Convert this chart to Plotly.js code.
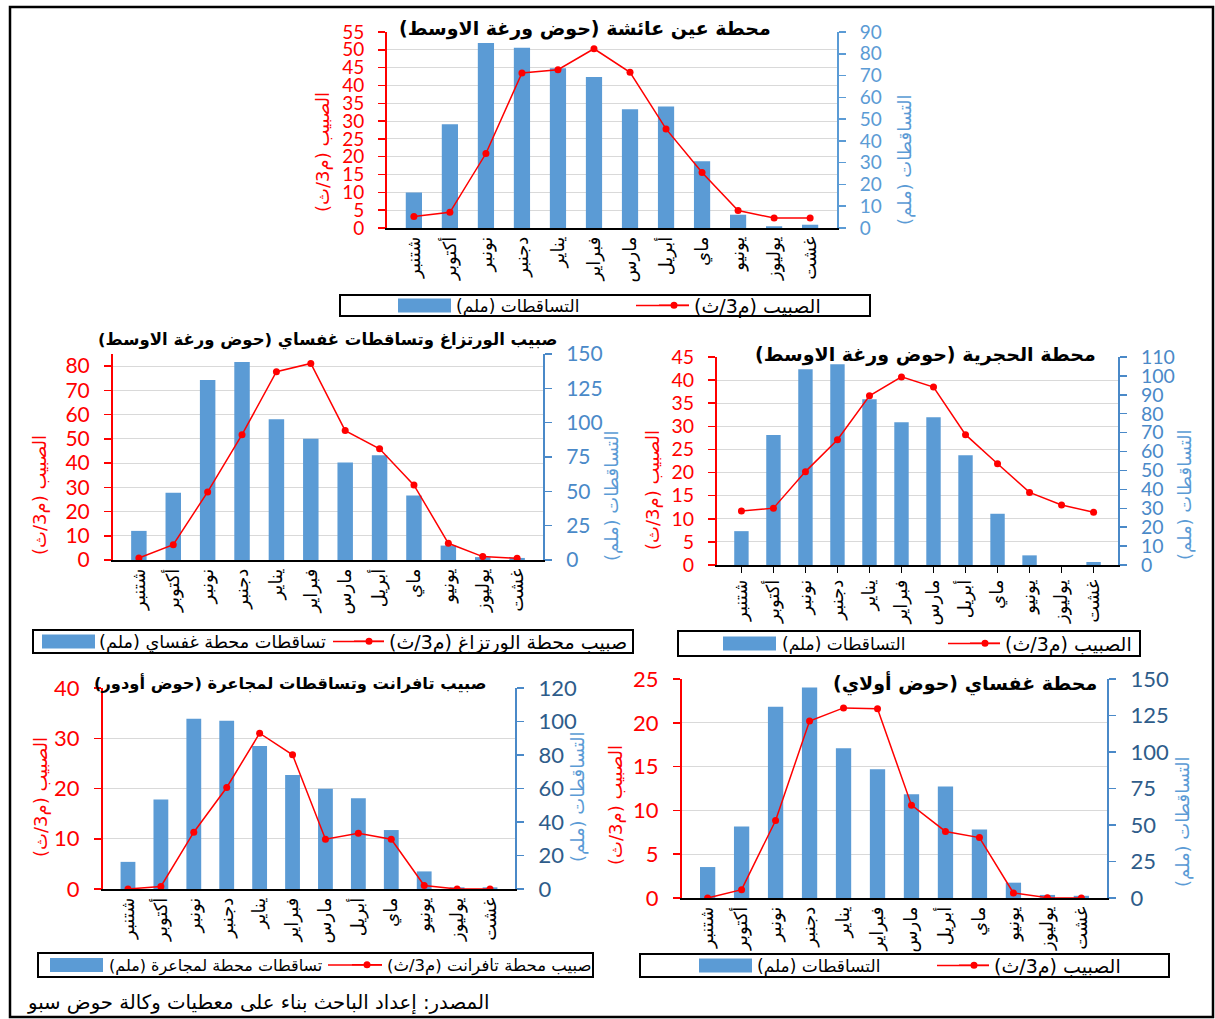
<!DOCTYPE html>
<html><head><meta charset="utf-8">
<script src="https://cdn.plot.ly/plotly-3.0.1.min.js"></script>
<style>body{margin:0;padding:0;background:#fff}#chart{width:1215px;height:1019px}</style>
</head><body><div id="chart"></div>
<script>
// ---------- data ----------
const months = ["شتنبر","أكتوبر","نونبر","دجنبر","يناير","فبراير","مارس","أبريل","ماي","يونيو","يوليوز","غشت"];
// Chart 1: Ain Aicha station
const ainAichaFlow = [3.2, 4.4, 20.9, 43.5, 44.4, 50.3, 43.7, 27.8, 15.6, 4.9, 2.8, 2.8];
const ainAichaRain = [16.3, 47.6, 84.9, 82.8, 73.4, 69.3, 54.5, 55.8, 30.7, 6.1, 0.8, 1.5];
// Chart 2: Ourtzagh flow & Ghafsai rain
const ourtzaghFlow = [0.8, 6.3, 28.1, 51.7, 77.7, 81.1, 53.4, 45.9, 30.9, 6.9, 1.4, 0.7];
const ghafsaiRain = [21.2, 49.0, 131.0, 144.1, 102.5, 88.2, 71.0, 76.3, 47.0, 10.5, 2.1, 1.5];
// Chart 3: Hajria station
const hajriaFlow = [11.7, 12.3, 20.2, 27.1, 36.6, 40.7, 38.5, 28.2, 21.9, 15.7, 13.0, 11.4];
const hajriaRain = [17.9, 68.8, 103.5, 106.1, 87.7, 75.5, 78.1, 58.0, 27.1, 5.1, 0.0, 1.6];
// Chart 4: Tafrante flow & Mjaara rain
const tafranteFlow = [0.0, 0.5, 11.3, 20.2, 31.0, 26.7, 9.9, 11.1, 9.9, 0.7, 0.0, 0.0];
const mjaaraRain = [16.2, 53.4, 101.6, 100.4, 85.4, 68.0, 59.9, 54.2, 35.2, 10.5, 1.0, 1.0];
// Chart 5: Ghafsai station
const ghafsaiFlow = [0.0, 0.95, 8.85, 20.2, 21.7, 21.6, 10.6, 7.6, 6.9, 0.57, 0.04, 0.0];
const ghafsaiRain2 = [21.2, 49.0, 131.0, 144.1, 102.5, 88.2, 71.0, 76.3, 47.0, 10.5, 2.1, 1.5];

const titles = [
  "محطة عين عائشة (حوض ورغة الاوسط)",
  "صبيب الورتزاغ وتساقطات غفساي (حوض ورغة الاوسط)",
  "محطة الحجرية (حوض ورغة الاوسط)",
  "صبيب تافرانت وتساقطات لمجاعرة (حوض أودور)",
  "محطة غفساي (حوض أولاي)"
];
const flowNames = ["الصبيب (م3/ث)","صبيب محطة الورتزاغ (م3/ث)","الصبيب (م3/ث)","صبيب محطة تافرانت (م3/ث)","الصبيب (م3/ث)"];
const rainNames = ["التساقطات (ملم)","تساقطات محطة غفساي (ملم)","التساقطات (ملم)","تساقطات محطة لمجاعرة (ملم)","التساقطات (ملم)"];
const flowAxisTitle = "الصبيب (م3/ث)";
const rainAxisTitle = "التساقطات (ملم)";
const sourceNote = "المصدر: إعداد الباحث بناء على معطيات وكالة حوض سبو";

const flows = [ainAichaFlow, ourtzaghFlow, hajriaFlow, tafranteFlow, ghafsaiFlow];
const rains = [ainAichaRain, ghafsaiRain, hajriaRain, mjaaraRain, ghafsaiRain2];

// ---------- layout geometry (pixels) ----------
const W = 1215, H = 1019;
const RLM = "\u200F";
const rtl = s => RLM + s + RLM;
const px = x => x / W;
const py = y => 1 - y / H;

const AR = "DejaVu Sans, sans-serif";
const NUM = "Lato, 'Liberation Sans', sans-serif";
const RED = "#FF0000";
const BAR = "#5B9BD5";

const charts = [
  {x0:387, x1:837, yt:32,  yb:228, lmax:55, ld:5,  rmax:90,  rd:10, rcol:"#5B9BD5", rline:"#5B9BD5", xt:false,
   title:{x:585, y:28, s:19}, lt:{x:323, y:152}, rt:{x:905, y:160},
   box:[340,295,870,316], leg:{sw:[398,451], t1:456, s1:17, ln:[636,689], t2:694, s2:19, y:305.5}, tfs:19},
  {x0:113, x1:543, yt:354, yb:560, lmax:85, ld:10, rmax:150, rd:25, rcol:"#4A89C8", rline:"#4A89C8", xt:false,
   title:{x:327, y:340, s:16.5}, lt:{x:40, y:495}, rt:{x:612, y:495},
   box:[33,630,633,653], leg:{sw:[42,95], t1:99, s1:17.7, ln:[333,384], t2:389, s2:19, y:641.5}, tfs:21},
  {x0:717, x1:1118, yt:357, yb:565, lmax:45, ld:5,  rmax:110, rd:10, rcol:"#4A89C8", rline:"#4A89C8", xt:true,
   title:{x:925, y:354, s:19}, lt:{x:652, y:490}, rt:{x:1185, y:495},
   box:[678,631,1140,656], leg:{sw:[723,776], t1:782, s1:17, ln:[948,1000], t2:1005, s2:19, y:643.5}, tfs:19.5},
  {x0:103, x1:515, yt:688, yb:889, lmax:40, ld:10, rmax:120, rd:20, rcol:"#2E5C8A", rline:"#4A89C8", xt:false,
   title:{x:290, y:683, s:16.3}, lt:{x:40, y:797}, rt:{x:578, y:797},
   box:[38,953,593,977], leg:{sw:[50,103], t1:109, s1:16, ln:[328,382], t2:387, s2:16.5, y:965}, tfs:22},
  {x0:682, x1:1107, yt:679, yb:898, lmax:25, ld:5,  rmax:150, rd:25, rcol:"#2E5C8A", rline:"#4A89C8", xt:false,
   title:{x:965, y:683, s:19}, lt:{x:615, y:805}, rt:{x:1183, y:822},
   box:[640,954,1169,977], leg:{sw:[699,752], t1:757, s1:17, ln:[937,989], t2:994, s2:19, y:965.5}, tfs:22}
];

const data = [];
const layout = {
  width: W, height: H,
  margin: {l:0, r:0, t:0, b:0},
  paper_bgcolor: "#fff", plot_bgcolor: "rgba(0,0,0,0)",
  bargap: 0.55,
  showlegend: true,
  annotations: [], shapes: []
};

charts.forEach((c, i) => {
  const k = i + 1;
  const xName = k === 1 ? "x" : "x" + k;
  const xKey = k === 1 ? "xaxis" : "xaxis" + k;
  const rIdx = 2 * k - 1, lIdx = 2 * k;
  const rName = rIdx === 1 ? "y" : "y" + rIdx;
  const rKey = rIdx === 1 ? "yaxis" : "yaxis" + rIdx;
  const lName = "y" + lIdx, lKey = "yaxis" + lIdx;
  const legA = "legend" + (2 * k - 1 === 1 ? "" : (2 * k - 1));
  const legB = "legend" + (2 * k);

  layout[xKey] = {
    domain: [px(c.x0), px(c.x1)], anchor: rName, type: "category",
    showline: true, linecolor: "#000", linewidth: 1.5,
    ticks: c.xt ? "outside" : "", ticklen: 6, tickcolor: "#000",
    tickangle: -90, tickfont: {family: AR, size: 18, color: "#000"},
    showgrid: false, zeroline: false, fixedrange: true
  };
  layout[rKey] = {
    domain: [py(c.yb), py(c.yt)], anchor: xName, side: "right",
    range: [0, c.rmax], dtick: c.rd, tick0: 0,
    showline: true, linecolor: c.rline, linewidth: 2,
    ticks: "outside", ticklen: 7, tickcolor: c.rline, tickwidth: 1.5,
    ticklabelstandoff: 10,
    tickfont: {family: NUM, size: c.tfs, color: c.rcol},
    showgrid: false, zeroline: false, fixedrange: true
  };
  layout[lKey] = {
    overlaying: rName, anchor: xName, side: "left",
    range: [0, c.lmax], dtick: c.ld, tick0: 0,
    showline: true, linecolor: RED, linewidth: 2,
    ticks: "outside", ticklen: 7, tickcolor: RED, tickwidth: 1.5,
    ticklabelstandoff: 10,
    tickfont: {family: NUM, size: c.tfs, color: RED},
    showgrid: true, gridcolor: "#D9D9D9", gridwidth: 1,
    zeroline: false, fixedrange: true
  };

  data.push({
    type: "bar", x: months, y: rains[i], xaxis: xName, yaxis: rName,
    name: rtl(rainNames[i]), marker: {color: BAR}, legend: legA
  });
  data.push({
    type: "scatter", mode: "lines+markers", x: months, y: flows[i], xaxis: xName, yaxis: lName,
    name: rtl(flowNames[i]), line: {color: RED, width: 1.5}, marker: {color: RED, size: 7}, legend: legB
  });

  const g = c.leg;
  layout[legA] = {
    x: px(g.t1 - 40), y: py(g.y), xanchor: "left", yanchor: "middle",
    orientation: "h", bgcolor: "rgba(0,0,0,0)", borderwidth: 0,
    font: {family: AR, size: g.s1, color: "#000"}
  };
  layout[legB] = {
    x: px(g.t2 - 40), y: py(g.y), xanchor: "left", yanchor: "middle",
    orientation: "h", bgcolor: "rgba(0,0,0,0)", borderwidth: 0,
    font: {family: AR, size: g.s2, color: "#000"}
  };
  // widened legend keys (decoration matching the reference's long swatches)
  layout.shapes.push({type: "rect", xref: "paper", yref: "paper", layer: "below",
    x0: px(g.sw[0]), x1: px(g.sw[1]), y0: py(g.y + 7), y1: py(g.y - 7),
    fillcolor: BAR, line: {width: 0}});
  layout.shapes.push({type: "line", xref: "paper", yref: "paper", layer: "below",
    x0: px(g.ln[0]), x1: px(g.ln[1]), y0: py(g.y), y1: py(g.y),
    line: {color: RED, width: 1.5}});

  layout.shapes.push({type: "rect", xref: "paper", yref: "paper",
    x0: px(c.box[0]), x1: px(c.box[2]), y0: py(c.box[3]), y1: py(c.box[1]),
    line: {color: "#000", width: 2}});

  layout.annotations.push({xref: "paper", yref: "paper", x: px(c.title.x), y: py(c.title.y),
    xanchor: "center", yanchor: "middle", showarrow: false, text: rtl(titles[i]),
    font: {family: AR, size: c.title.s, color: "#000", weight: "bold"}});
  layout.annotations.push({xref: "paper", yref: "paper", x: px(c.lt.x), y: py(c.lt.y),
    xanchor: "center", yanchor: "middle", showarrow: false, textangle: -90, text: rtl(flowAxisTitle),
    font: {family: AR, size: 18, color: RED}});
  layout.annotations.push({xref: "paper", yref: "paper", x: px(c.rt.x), y: py(c.rt.y),
    xanchor: "center", yanchor: "middle", showarrow: false, textangle: -90, text: rtl(rainAxisTitle),
    font: {family: AR, size: 18, color: "#5B9BD5"}});
});

layout.annotations.push({xref: "paper", yref: "paper", x: px(25), y: py(1003),
  xanchor: "left", yanchor: "middle", showarrow: false, text: rtl(sourceNote),
  font: {family: AR, size: 19.7, color: "#000"}});

layout.shapes.push({type: "rect", xref: "paper", yref: "paper",
  x0: px(10), x1: px(1213), y0: py(1017), y1: py(7), line: {color: "#000", width: 2.5}});

Plotly.newPlot("chart", data, layout, {staticPlot: true, displayModeBar: false});
</script>
</body></html>
